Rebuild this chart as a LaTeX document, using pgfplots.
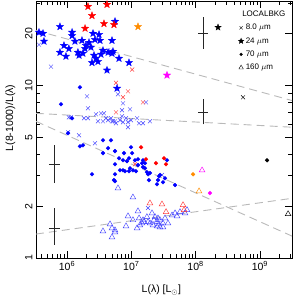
\documentclass[border=0pt]{standalone}
\usepackage{pgfplots}
\pgfplotsset{compat=1.18}
\usepackage{fontspec}
\setmainfont{Liberation Sans}
\definecolor{myorange}{RGB}{255,140,0}
\definecolor{mymag}{RGB}{255,0,255}
\definecolor{lblue}{RGB}{70,70,255}
\definecolor{lred}{RGB}{255,60,60}
\pgfdeclareplotmark{fstar}{%
 \pgfpathmoveto{\pgfpointpolar{90}{\pgfplotmarksize}}%
 \pgfpathlineto{\pgfpointpolar{126}{0.42\pgfplotmarksize}}%
 \pgfpathlineto{\pgfpointpolar{162}{\pgfplotmarksize}}%
 \pgfpathlineto{\pgfpointpolar{198}{0.42\pgfplotmarksize}}%
 \pgfpathlineto{\pgfpointpolar{234}{\pgfplotmarksize}}%
 \pgfpathlineto{\pgfpointpolar{270}{0.42\pgfplotmarksize}}%
 \pgfpathlineto{\pgfpointpolar{306}{\pgfplotmarksize}}%
 \pgfpathlineto{\pgfpointpolar{342}{0.42\pgfplotmarksize}}%
 \pgfpathlineto{\pgfpointpolar{18}{\pgfplotmarksize}}%
 \pgfpathlineto{\pgfpointpolar{54}{0.42\pgfplotmarksize}}%
 \pgfpathclose\pgfusepathqfillstroke}
\begin{document}
\begin{tikzpicture}
\begin{axis}[name=ax, scale only axis, width=256pt, height=257pt,
 xmode=log, ymode=log, xmin=3.3e5, xmax=3.15e9, ymin=1, ymax=31,
 xtick={1e6,1e7,1e8,1e9},
 xticklabels={10\textsuperscript{6},10\textsuperscript{7},10\textsuperscript{8},10\textsuperscript{9}},
 minor xtick={4e5,5e5,6e5,7e5,8e5,9e5,2e6,3e6,4e6,5e6,6e6,7e6,8e6,9e6,2e7,3e7,4e7,5e7,6e7,7e7,8e7,9e7,2e8,3e8,4e8,5e8,6e8,7e8,8e8,9e8,2e9,3e9},
 ytick={1,2,5,10,20}, yticklabels={1,2,5,10,20},
 minor ytick={3,4,6,7,8,9,30},
 /pgf/number format/assume math mode=true,
 tick label style={font=\fontsize{10.5}{12}\selectfont},
 yticklabel style={rotate=90, anchor=south},
 major tick length=7pt, minor tick length=4pt,
 axis line style={line width=0.7pt},
 tick style={black, line width=0.6pt},
 xlabel={L(λ) [L$_\odot$]}, ylabel={L(8-1000)/L(λ)},
 label style={font=\fontsize{10.5}{12}\selectfont},
 xlabel style={at={(axis description cs:0.49,-0.125)}, anchor=center},
 ylabel style={at={(axis description cs:-0.10,0.545)}, anchor=center},
 legend style={at={(axis description cs:0.790,0.918)}, anchor=north west, draw=none, fill=none,
   font=\fontsize{8}{9}\selectfont, row sep=2.2pt, inner sep=0pt},
 legend cell align=left,
 legend image code/.code={\draw[mark repeat=2,mark phase=2,#1] plot coordinates {(0cm,0cm) (0.1cm,0cm) (0.2cm,0cm)};},
]
% dashed fits
\addplot[forget plot, gray!55, line width=0.9pt, dash pattern=on 8pt off 5pt] coordinates {(3.3e5,20.9) (3.15e9,8.2)};
\addplot[forget plot, gray!55, line width=0.9pt, dash pattern=on 8pt off 5pt] coordinates {(3.3e5,6.91) (3.15e9,5.74)};
\addplot[forget plot, gray!55, line width=0.9pt, dash pattern=on 8pt off 5pt] coordinates {(3.3e5,6.21) (3.15e9,1.34)};
\addplot[forget plot, gray!55, line width=0.9pt, dash pattern=on 8pt off 5pt] coordinates {(3.3e5,1.377) (3.15e9,2.22)};
% error bars
\addplot[forget plot, black!85, line width=0.6pt] coordinates {(6.28e5,2.72) (6.28e5,4.51)};
\addplot[forget plot, black!85, line width=0.6pt] coordinates {(5.25e5,3.50) (7.78e5,3.50)};
\addplot[forget plot, black!85, line width=0.6pt] coordinates {(6.28e5,1.19) (6.28e5,1.95)};
\addplot[forget plot, black!85, line width=0.6pt] coordinates {(5.25e5,1.49) (7.78e5,1.49)};
\addplot[forget plot, black!85, line width=0.6pt] coordinates {(1.30e8,16.4) (1.30e8,24.9)};
\addplot[forget plot, black!85, line width=0.6pt] coordinates {(1.09e8,20.1) (1.56e8,20.1)};
\addplot[forget plot, black!85, line width=0.6pt] coordinates {(1.30e8,5.97) (1.30e8,8.33)};
\addplot[forget plot, black!85, line width=0.6pt] coordinates {(1.09e8,7.00) (1.56e8,7.00)};
% 160 um triangles
\addplot[forget plot, only marks, mark=triangle, mark size=3.3pt, lblue, line width=0.45pt] coordinates {
(6.21e6,2.54) (1.06e7,2.25) (3.63e6,1.43) (4.67e6,1.57) (5.01e6,1.49) (5.58e6,1.45) (5.01e6,1.32) (5.58e6,1.41)
(8.28e6,1.53) (8.89e6,1.75) (1.06e7,1.66) (1.27e7,1.87) (1.32e7,1.70) (1.23e7,1.49) (1.36e7,1.55) (1.58e7,1.62)
(1.75e7,1.73) (1.82e7,1.62) (1.52e7,1.66) (1.47e7,1.59) (1.95e7,1.59) (2.10e7,1.82) (2.34e7,1.73) (2.51e7,1.62)
(2.79e7,1.66) (2.70e7,1.57) (3.11e7,1.59) (3.34e7,1.70) (3.72e7,1.59) (3.11e7,1.51) (2.79e7,1.51) (2.51e7,1.53)
(2.17e7,1.55) (4.30e7,1.77) (4.79e7,1.82) (5.71e7,1.85) (6.84e7,1.82) (2.25e7,1.66) (2.60e7,1.70) (5.14e7,1.75) (7.35e7,1.90)};
\addplot[forget plot, only marks, mark=triangle, mark size=3.3pt, lred, line width=0.45pt] coordinates {
(1.95e7,2.08) (3.00e7,2.05) (6.37e7,2.03) (6.61e7,1.90) (3.47e7,1.85)};
\addplot[forget plot, only marks, mark=triangle, mark size=3.3pt, myorange, line width=0.45pt] coordinates {(1.13e8,2.44)};
\addplot[forget plot, only marks, mark=triangle, mark size=3.3pt, mymag, line width=0.45pt] coordinates {(1.26e8,3.23)};
\addplot[forget plot, only marks, mark=triangle, mark size=3.3pt, black, line width=0.45pt] coordinates {(2.74e9,1.80)};
% 8 um crosses
\addplot[forget plot, only marks, mark=x, mark size=2.8pt, lblue, line width=0.45pt] coordinates {
(3.67e5,17.3) (5.64e5,12.9) (4.35e6,16.0) (2.05e6,8.67) (2.12e6,7.39) (1.07e6,6.55) (1.15e6,6.55) (1.84e6,6.47)
(2.12e6,6.47) (2.82e6,6.82) (3.38e6,6.91) (3.76e6,6.91) (4.05e6,6.47) (3.03e6,6.21) (3.63e6,6.21) (4.35e6,6.30)
(4.83e6,6.47) (5.19e6,6.21) (1.54e6,5.15) (1.04e6,5.37) (6.21e6,8.91) (7.43e6,7.90) (7.16e6,7.20) (9.55e6,7.29)
(7.16e6,6.64) (6.67e6,6.30) (8.28e6,6.47) (8.89e6,6.13) (8.89e6,5.74) (9.89e6,6.30) (1.23e7,6.47) (1.32e7,6.05)
(1.52e7,6.05) (1.95e7,6.21) (5.01e6,6.21) (5.58e6,6.21) (5.78e6,6.05) (7.43e6,6.13) (1.69e7,8.00) (2.72e6,4.63)
(3.00e7,3.03) (1.82e7,1.95)};
\addplot[forget plot, only marks, mark=x, mark size=2.8pt, lred, line width=0.45pt] coordinates {
(1.03e7,12.4) (5.78e6,10.4) (8.89e6,9.27) (7.43e6,8.56) (5.78e6,7.00) (1.52e7,8.00) (1.14e7,3.50)};
\addplot[forget plot, only marks, mark=x, mark size=2.8pt, black, line width=0.45pt] coordinates {(5.46e8,8.56)};
% 70 um dots
\addplot[forget plot, only marks, mark=*, mark size=1.9pt, blue, draw=blue] coordinates {
(1.59e6,9.78) (8.07e5,7.80) (1.20e6,6.47) (1.04e6,5.30) (1.59e6,4.45) (1.77e6,4.51) (3.63e6,4.82) (4.83e6,4.82)
(4.35e6,4.34) (3.63e6,4.06) (5.58e6,4.17) (2.45e6,3.06) (5.58e6,3.50) (5.58e6,3.06) (5.58e6,2.79) (9.89e6,4.39)
(6.44e6,3.79) (7.69e6,4.06) (1.03e7,4.06) (9.20e6,3.79) (7.43e6,3.69) (8.57e6,3.65) (1.14e7,3.69) (1.27e7,3.74)
(1.52e7,3.69) (1.47e7,3.55) (1.27e7,3.46) (6.67e6,3.23) (7.43e6,3.23) (7.98e6,3.19) (9.20e6,3.19) (1.06e7,3.23)
(1.18e7,3.19) (9.55e6,3.32) (1.52e7,3.37) (1.63e7,3.32) (1.75e7,3.15) (1.82e7,3.06) (1.88e7,2.83) (5.38e6,2.83)
(2.79e7,3.03) (2.60e7,2.83) (2.51e7,2.68) (3.11e7,2.75) (3.34e7,2.90) (4.79e7,2.65) (3.59e7,3.69) (1.63e7,3.55)
(1.95e7,3.11) (2.70e7,2.98)};
\addplot[forget plot, only marks, mark=*, mark size=1.9pt, red, draw=red] coordinates {
(1.42e7,4.39) (1.69e7,3.74) (2.42e7,3.55) (3.23e7,3.79) (3.47e7,3.50)};
\addplot[forget plot, only marks, mark=*, mark size=1.9pt, myorange, draw=myorange] coordinates {(9.12e7,3.06)};
\addplot[forget plot, only marks, mark=*, mark size=1.9pt, mymag, draw=mymag] coordinates {(1.67e8,2.38)};
\addplot[forget plot, only marks, mark=*, mark size=1.9pt, black] coordinates {(1.29e9,3.69)};
% 24 um stars
\addplot[forget plot, only marks, mark=fstar, mark size=3.9pt, blue, fill=blue, line width=0.3pt] coordinates {
(7.78e5,22.0) (3.67e5,20.4) (4.24e5,20.1) (4.39e5,18.1) (1.20e6,20.4) (1.20e6,19.5) (8.98e5,17.1) (7.78e5,15.6)
(9.64e5,14.8) (1.07e6,16.4) (1.33e6,18.1) (1.71e6,18.3) (1.48e6,15.6) (1.54e6,15.0) (1.77e6,15.4) (1.97e6,17.1)
(2.20e6,17.8) (2.54e6,20.1) (3.15e6,19.8) (2.72e6,18.5) (3.26e6,18.3) (2.36e6,16.7) (1.91e6,16.4) (2.63e6,15.0)
(2.82e6,14.4) (3.03e6,13.8) (2.45e6,13.6) (3.38e6,15.2) (3.63e6,16.0) (4.35e6,15.6) (5.01e6,15.4) (5.19e6,15.8)
(4.19e6,12.3) (5.58e6,23.6) (5.01e6,18.3) (6.44e6,14.4) (9.20e6,13.6) (6.00e6,9.65)};
\addplot[forget plot, only marks, mark=fstar, mark size=3.9pt, red, fill=red, line width=0.3pt] coordinates {
(2.12e6,28.8) (4.19e6,29.6) (2.45e6,25.5) (1.91e6,21.5) (3.76e6,22.9) (5.38e6,22.6)};
\addplot[forget plot, only marks, mark=fstar, mark size=3.9pt, myorange, fill=myorange, line width=0.3pt] coordinates {(1.27e7,22.0)};
\addplot[forget plot, only marks, mark=fstar, mark size=3.9pt, mymag, fill=mymag, line width=0.3pt] coordinates {(3.59e7,11.5)};
\addplot[forget plot, only marks, mark=fstar, mark size=3.4pt, black, fill=black, line width=0.3pt] coordinates {(2.23e8,21.8)};
\node[anchor=north west, font=\fontsize{8}{9}\selectfont, inner sep=0pt] at (rel axis cs:0.805,0.962) {LOCALBKG};
\addlegendimage{only marks, mark=x, black, mark size=2.2pt, line width=0.4pt}
\addlegendentry{8.0 $\mu$m}
\addlegendimage{only marks, mark=fstar, black, fill=black, mark size=2.8pt}
\addlegendentry{24 $\mu$m}
\addlegendimage{only marks, mark=*, black, mark size=1.4pt}
\addlegendentry{70 $\mu$m}
\addlegendimage{only marks, mark=triangle, black, mark size=2.6pt, line width=0.4pt}
\addlegendentry{160 $\mu$m}
\end{axis}
\pgfresetboundingbox
\path ([xshift=-36pt,yshift=-43pt]ax.south west) rectangle ([xshift=3pt,yshift=1pt]ax.north east);
\end{tikzpicture}
\end{document}
